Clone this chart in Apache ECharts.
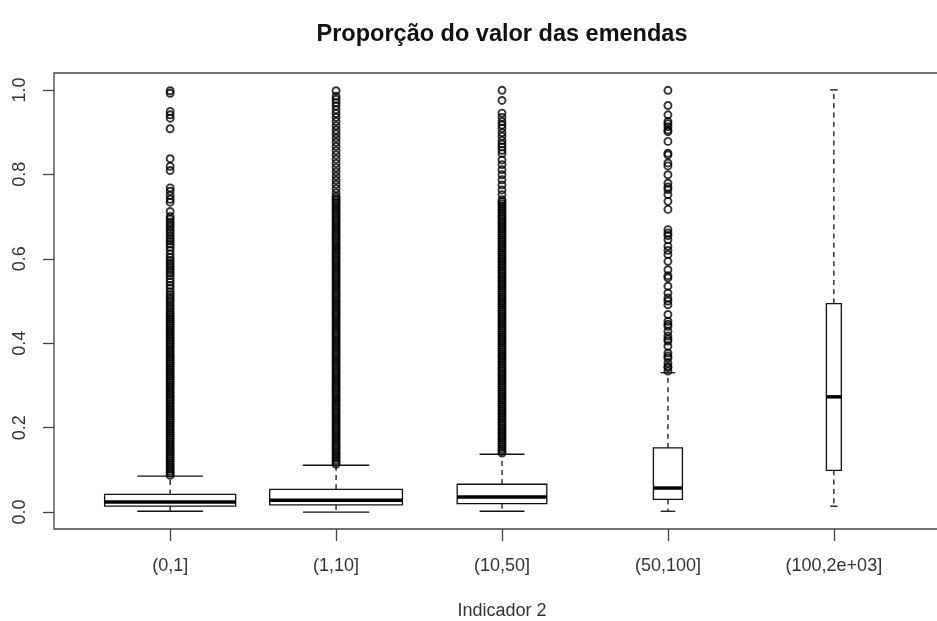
<!DOCTYPE html>
<html>
<head>
<meta charset="utf-8">
<script src="https://cdn.jsdelivr.net/npm/echarts@6/dist/echarts.min.js"></script>
<style>
  html, body { margin: 0; padding: 0; background: #fff; }
  #chart { width: 937px; height: 621px; }
</style>
</head>
<body>
<div id="chart"></div>
<script>
// Group labels (Indicador 2 ranges)
const categories = ['(0,1]', '(1,10]', '(10,50]', '(50,100]', '(100,2e+03]'];

// Five-number summaries per group
const lowerWhisker = [0.002, 0.000, 0.002, 0.002, 0.014];
const quartile1    = [0.014, 0.017, 0.020, 0.030, 0.099];
const median       = [0.024, 0.028, 0.036, 0.057, 0.273];
const quartile3    = [0.042, 0.054, 0.066, 0.152, 0.494];
const upperWhisker = [0.085, 0.111, 0.137, 0.330, 1.000];

// Outliers per group
const outliers0 = [
  0.087,0.092,0.097,0.102,0.107,0.112,0.117,0.122,0.127,0.132,0.137,0.142,0.147,0.152,0.157,0.162,
  0.167,0.172,0.177,0.182,0.187,0.192,0.197,0.202,0.207,0.212,0.217,0.222,0.227,0.232,0.237,0.242,
  0.247,0.252,0.257,0.262,0.267,0.272,0.277,0.282,0.287,0.292,0.297,0.302,0.307,0.312,0.317,0.322,
  0.327,0.332,0.337,0.342,0.347,0.352,0.357,0.362,0.367,0.372,0.377,0.382,0.387,0.392,0.397,0.402,
  0.407,0.412,0.417,0.422,0.427,0.432,0.437,0.442,0.447,0.452,0.457,0.462,0.467,0.472,
  0.478,0.484,0.490,0.497,0.503,0.509,0.515,0.522,0.530,0.537,0.545,0.552,0.560,0.566,0.572,0.578,
  0.584,0.590,0.596,0.603,0.611,0.620,0.628,0.635,0.642,0.648,0.655,0.662,0.668,0.675,0.681,0.687,
  0.694,0.700,0.712,0.734,0.741,0.750,0.760,0.768,0.809,0.819,0.837,0.908,0.933,0.941,0.949,0.992,0.998
];
const outliers1 = [
  0.113,0.118,0.123,0.128,0.133,0.138,0.143,0.148,0.153,0.158,0.163,0.168,0.173,0.178,0.183,0.188,
  0.193,0.198,0.203,0.208,0.213,0.218,0.223,0.228,0.233,0.238,0.243,0.248,0.253,0.258,0.263,0.268,
  0.273,0.278,0.283,0.288,0.293,0.298,0.303,0.308,0.313,0.318,0.323,0.328,0.333,0.338,0.343,0.348,
  0.353,0.358,0.363,0.368,0.373,0.378,0.383,0.388,0.393,0.398,0.403,0.408,0.413,0.418,0.423,0.428,
  0.433,0.438,0.443,0.448,0.453,0.458,0.463,0.468,0.473,0.478,0.483,0.488,0.493,0.498,0.503,0.508,
  0.513,0.518,0.523,0.528,0.533,0.538,0.543,0.548,0.553,0.558,0.563,0.568,0.573,0.578,0.583,0.588,
  0.593,0.598,0.603,0.608,0.613,0.618,0.623,0.628,0.633,0.638,0.643,0.648,0.653,0.658,0.663,0.668,
  0.673,0.678,0.683,0.688,0.693,0.698,0.703,0.708,0.713,0.718,0.723,0.728,0.733,0.738,0.743,0.748,
  0.756,0.766,0.776,0.786,0.796,0.806,0.816,0.826,0.836,0.846,0.856,0.866,0.876,0.886,0.896,0.905,
  0.915,0.925,0.935,0.944,0.953,0.962,0.970,0.978,0.985,0.998
];
const outliers2 = [
  0.140,0.145,0.150,0.155,0.160,0.165,0.170,0.175,0.180,0.185,0.190,0.195,0.200,0.205,0.210,0.215,
  0.220,0.225,0.230,0.235,0.240,0.245,0.250,0.255,0.260,0.265,0.270,0.275,0.280,0.285,0.290,0.295,
  0.300,0.305,0.310,0.315,0.320,0.325,0.330,0.335,0.340,0.345,0.350,0.355,0.360,0.365,0.370,0.375,
  0.380,0.385,0.390,0.395,0.400,0.405,0.410,0.415,0.420,0.425,0.430,0.435,0.440,0.445,0.450,0.455,
  0.460,0.465,0.470,0.475,0.480,0.485,0.490,0.495,0.500,0.505,0.510,0.515,0.520,0.525,0.530,0.535,
  0.540,0.545,0.550,0.555,0.560,0.565,0.570,0.575,0.580,0.585,0.590,0.595,0.600,0.605,0.610,0.615,
  0.620,0.625,0.630,0.635,0.640,0.645,0.650,0.655,0.660,0.665,0.670,0.675,0.680,0.685,0.690,0.695,
  0.700,0.705,0.710,0.715,0.720,0.725,0.730,0.735,
  0.740,0.752,0.763,0.775,0.787,0.799,0.811,0.823,0.834,0.849,0.857,0.865,0.872,0.880,0.890,0.899,
  0.909,0.917,0.925,0.935,0.945,0.975,0.999
];
const outliers3 = [
  0.334,0.342,0.345,0.353,0.365,0.370,0.377,0.393,0.405,0.410,0.417,0.428,0.440,0.445,0.452,0.468,
  0.491,0.500,0.507,0.519,0.535,0.555,0.560,0.574,0.594,0.610,0.620,0.630,0.645,0.655,0.661,0.669,
  0.717,0.736,0.752,0.764,0.770,0.779,0.799,0.820,0.827,0.846,0.850,0.878,0.901,0.905,0.913,0.920,
  0.925,0.941,0.963,0.999
];
const outliers4 = [];
const outlierGroups = [outliers0, outliers1, outliers2, outliers3, outliers4];

// Tick values
const yTicks = [0, 0.2, 0.4, 0.6, 0.8, 1.0];
const xTicks = [1, 2, 3, 4, 5];

// Box widths (axis units, proportional to group size)
const BOX_WIDTH = [0.79, 0.80, 0.54, 0.175, 0.09];

const INK = '#000';
const TEXT = '#333';
const FONT = '"Liberation Sans", Arial, sans-serif';

const boxData = categories.map((c, i) => [
  i + 1, lowerWhisker[i], quartile1[i], median[i], quartile3[i], upperWhisker[i]
]);

const pointData = [];
outlierGroups.forEach((arr, g) => arr.forEach(v => pointData.push([g + 1, v])));

function renderBox(params, api) {
  const i = params.dataIndex;
  const x = api.value(0);
  const lo = api.value(1), q1 = api.value(2), md = api.value(3), q3 = api.value(4), hi = api.value(5);
  const half = BOX_WIDTH[i] / 2;
  const capHalf = half / 2;
  const p = (xv, yv) => api.coord([xv, yv]);
  const seg = (a, b, style) => ({
    type: 'line',
    shape: { x1: a[0], y1: a[1], x2: b[0], y2: b[1] },
    style: style
  });
  const dashed = { stroke: '#111', lineWidth: 1.3, lineDash: [5, 4.3] };
  const solid = { stroke: '#111', lineWidth: 1.3 };
  const tl = p(x - half, q3);
  const br = p(x + half, q1);
  return {
    type: 'group',
    children: [
      seg(p(x, q3), p(x, hi), dashed),
      seg(p(x, q1), p(x, lo), dashed),
      seg(p(x - capHalf, hi), p(x + capHalf, hi), solid),
      seg(p(x - capHalf, lo), p(x + capHalf, lo), solid),
      {
        type: 'rect',
        shape: { x: tl[0], y: tl[1], width: br[0] - tl[0], height: br[1] - tl[1] },
        style: { fill: '#fff', stroke: '#111', lineWidth: 1.3 }
      },
      seg(p(x - half, md), p(x + half, md), { stroke: '#000', lineWidth: 3.5 })
    ]
  };
}

const chart = echarts.init(document.getElementById('chart'), null, { renderer: 'canvas' });
chart.setOption({
  animation: false,
  backgroundColor: '#fff',
  title: {
    text: 'Proporção do valor das emendas',
    left: 497,
    textAlign: 'center',
    top: 18,
    textStyle: { fontFamily: FONT, fontSize: 23.5, fontWeight: 'bold', color: '#111' }
  },
  grid: {
    left: 54, right: -13, top: 73, bottom: 92,
    outerBoundsMode: 'none',
    containLabel: false,
    show: true,
    borderColor: '#444',
    borderWidth: 1.3,
    backgroundColor: 'transparent'
  },
  xAxis: {
    type: 'value',
    min: 0.3,
    max: 5.7,
    name: 'Indicador 2',
    nameLocation: 'middle',
    nameGap: 73,
    nameTextStyle: { fontFamily: FONT, fontSize: 18, color: TEXT },
    axisLine: { show: false, onZero: false },
    splitLine: { show: false },
    axisTick: {
      show: true, length: 12, customValues: xTicks,
      lineStyle: { color: '#444', width: 1.3 }
    },
    axisLabel: {
      customValues: xTicks,
      margin: 28,
      fontFamily: FONT, fontSize: 18, color: TEXT,
      formatter: v => categories[Math.round(v) - 1] || ''
    }
  },
  yAxis: {
    type: 'value',
    min: -0.04,
    max: 1.04,
    axisLine: { show: false, onZero: false },
    splitLine: { show: false },
    axisTick: {
      show: true, length: 11, customValues: yTicks,
      lineStyle: { color: '#444', width: 1.3 }
    },
    axisLabel: {
      customValues: yTicks,
      rotate: 90,
      margin: 25,
      fontFamily: FONT, fontSize: 18, color: TEXT,
      formatter: v => v.toFixed(1)
    }
  },
  series: [
    {
      type: 'custom',
      renderItem: renderBox,
      data: boxData,
      encode: { x: 0, y: [1, 2, 3, 4, 5] },
      silent: true,
      z: 2
    },
    {
      type: 'scatter',
      data: pointData,
      symbol: 'circle',
      symbolSize: 7,
      itemStyle: { color: 'rgba(0,0,0,0)', borderColor: INK, borderWidth: 1.9 },
      silent: true,
      z: 3
    }
  ]
});
</script>
</body>
</html>
